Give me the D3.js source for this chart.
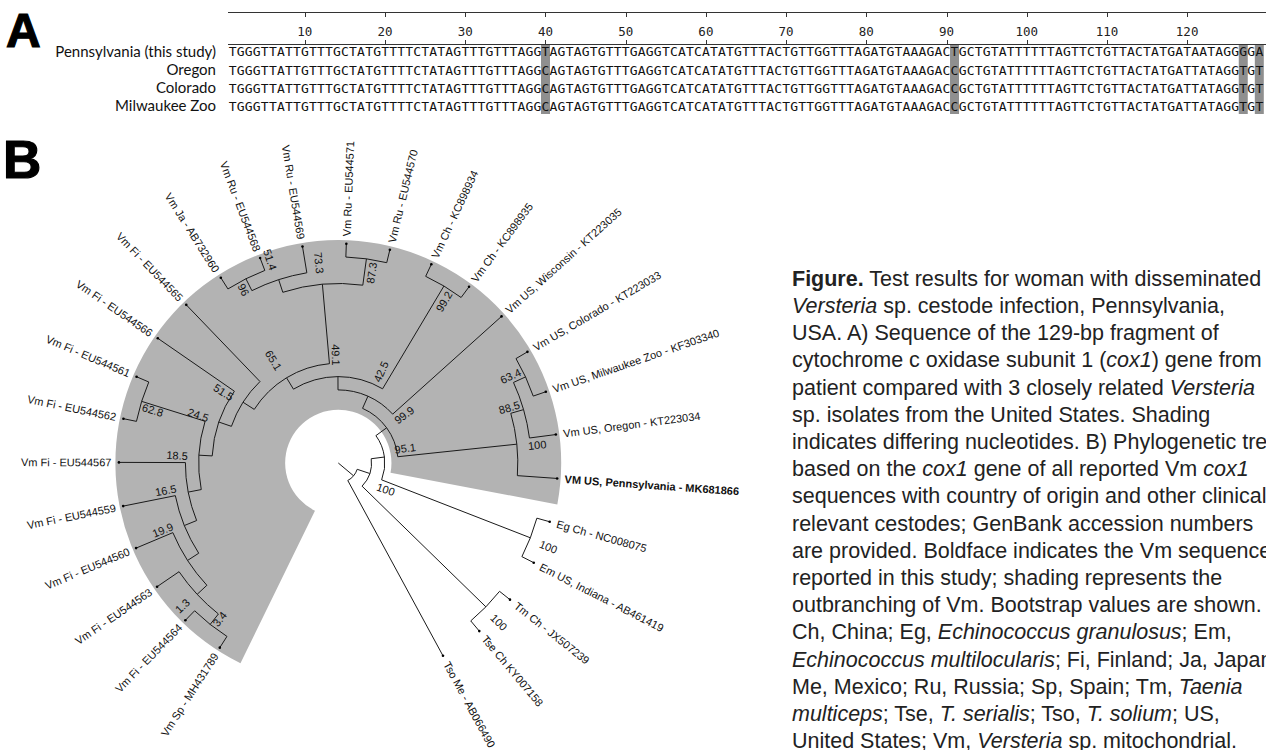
<!DOCTYPE html>
<html>
<head>
<meta charset="utf-8">
<script src="https://cdn.jsdelivr.net/npm/d3@7"></script>
<style>
  body { margin: 0; background: #fff; }
  svg { display: block; }
  text { white-space: pre; }
</style>
</head>
<body>
<svg id="chart" width="1266" height="750"></svg>
<script>
// ---------------- panel A data ----------------
var seqNames = ["Pennsylvania (this study)", "Oregon", "Colorado", "Milwaukee Zoo"];
var seqRows = [
  "TGGGTTATTGTTTGCTATGTTTTCTATAGTTTGTTTAGGTAGTAGTGTTTGAGGTCATCATATGTTTACTGTTGGTTTAGATGTAAAGACTGCTGTATTTTTTAGTTCTGTTACTATGATAATAGGGGA",
  "TGGGTTATTGTTTGCTATGTTTTCTATAGTTTGTTTAGGCAGTAGTGTTTGAGGTCATCATATGTTTACTGTTGGTTTAGATGTAAAGACCGCTGTATTTTTTAGTTCTGTTACTATGATTATAGGTGT",
  "TGGGTTATTGTTTGCTATGTTTTCTATAGTTTGTTTAGGCAGTAGTGTTTGAGGTCATCATATGTTTACTGTTGGTTTAGATGTAAAGACCGCTGTATTTTTTAGTTCTGTTACTATGATTATAGGTGT",
  "TGGGTTATTGTTTGCTATGTTTTCTATAGTTTGTTTAGGCAGTAGTGTTTGAGGTCATCATATGTTTACTGTTGGTTTAGATGTAAAGACCGCTGTATTTTTTAGTTCTGTTACTATGATTATAGGTGT"
];
var diffSites = [40, 91, 127, 129];
var rulerTicks = [10, 20, 30, 40, 50, 60, 70, 80, 90, 100, 110, 120];

// ---------------- panel B data ----------------
var leafKeys = ["TsoMe", "TseCh", "TmCh", "EmUS", "EgCh", "Penn", "Oregon", "Milw", "Colo", "Wisc",
  "Ch935", "Ch934", "Ru570", "Ru571", "Ru569", "Ru568", "Ja", "Fi565", "Fi566", "Fi561",
  "Fi562", "Fi567", "Fi559", "Fi560", "Fi563", "Fi564", "Sp"];
var leafLabels = ["Tso Me - AB066490", "Tse Ch KY007158", "Tm Ch - JX507239", "Em US, Indiana - AB461419",
  "Eg Ch - NC008075", "VM US, Pennsylvania - MK681866", "Vm US, Oregon - KT223034",
  "Vm US, Milwaukee Zoo - KF303340", "Vm US, Colorado - KT223033", "Vm US, Wisconsin - KT223035",
  "Vm Ch - KC898935", "Vm Ch - KC898934", "Vm Ru - EU544570", "Vm Ru - EU544571", "Vm Ru - EU544569",
  "Vm Ru - EU544568", "Vm Ja - AB732960", "Vm Fi - EU544565", "Vm Fi - EU544566", "Vm Fi - EU544561",
  "Vm Fi - EU544562", "Vm Fi - EU544567", "Vm Fi - EU544559", "Vm Fi - EU544560", "Vm Fi - EU544563",
  "Vm Fi - EU544564", "Vm Sp - MH431789"];
var boldLeaf = "Penn";
// topology with bootstrap values as internal node names
var newick = "(TsoMe,((TseCh,TmCh)100,((EmUS,EgCh)100,((Penn,(Oregon,(Milw,Colo)63.4)88.5)100,(Wisc,((Ch935,Ch934)99.2,(((Ru570,Ru571)87.3,(Ru569,(Ru568,Ja)96)51.4)73.3,(Fi565,(Fi566,((Fi561,Fi562)62.8,(Fi567,(Fi559,(Fi560,(Fi563,(Fi564,Sp)3.4)1.3))19.9)16.5)18.5)24.5)51.5)65.1)49.1)42.5)99.9)95.1)100)";
var shadedClade = "Penn|Sp";

// where each bootstrap value sits: beyond the node ("out") or on the branch into it ("in")
var bootLayout = [
  { at: "TseCh|TmCh", mode: "out", shift: -2 },
  { at: "EmUS|EgCh", mode: "out", shift: -2 },
  { at: "TseCh|Sp", mode: "out", shift: -10 },
  { at: "EmUS|Sp", mode: "out", shift: 6 },
  { at: "Penn|Colo", mode: "out", shift: -3 },
  { at: "Oregon|Colo", mode: "in", shift: 6 },
  { at: "Milw|Colo", mode: "in", shift: 7 },
  { at: "Penn|Sp", mode: "out", shift: 0 },
  { at: "Wisc|Sp", mode: "out", shift: -2, gap: 17 },
  { at: "Ch935|Sp", mode: "out", shift: 2 },
  { at: "Ch935|Ch934", mode: "in", shift: -8 },
  { at: "Ru570|Sp", mode: "out", shift: 2 },
  { at: "Ru570|Ja", mode: "out", shift: 1.5 },
  { at: "Ru570|Ru571", mode: "in", shift: -7 },
  { at: "Ru569|Ja", mode: "out", shift: 2 },
  { at: "Ru568|Ja", mode: "in", shift: 7 },
  { at: "Fi565|Sp", mode: "out", shift: 2 },
  { at: "Fi566|Sp", mode: "out", shift: 0 },
  { at: "Fi561|Sp", mode: "out", shift: 1.5 },
  { at: "Fi561|Fi562", mode: "in", shift: 5 },
  { at: "Fi567|Sp", mode: "out", shift: -6 },
  { at: "Fi559|Sp", mode: "out", shift: -4 },
  { at: "Fi563|Sp", mode: "out", shift: -1.5 },
  { at: "Fi564|Sp", mode: "in", shift: 4 }
];

// ---------------- caption ----------------
var captionLines = [
  [["Figure.", "b"], [" Test results for woman with disseminated", ""]],
  [["Versteria", "i"], [" sp. cestode infection, Pennsylvania,", ""]],
  [["USA. A) Sequence of the 129-bp fragment of", ""]],
  [["cytochrome c oxidase subunit 1 (", ""], ["cox1", "i"], [") gene from", ""]],
  [["patient compared with 3 closely related ", ""], ["Versteria", "i"]],
  [["sp. isolates from the United States. Shading", ""]],
  [["indicates differing nucleotides. B) Phylogenetic tree", ""]],
  [["based on the ", ""], ["cox1", "i"], [" gene of all reported Vm ", ""], ["cox1", "i"]],
  [["sequences with country of origin and other clinically", ""]],
  [["relevant cestodes; GenBank accession numbers", ""]],
  [["are provided. Boldface indicates the Vm sequence", ""]],
  [["reported in this study; shading represents the", ""]],
  [["outbranching of Vm. Bootstrap values are shown.", ""]],
  [["Ch, China; Eg, ", ""], ["Echinococcus granulosus", "i"], ["; Em,", ""]],
  [["Echinococcus multilocularis", "i"], ["; Fi, Finland; Ja, Japan;", ""]],
  [["Me, Mexico; Ru, Russia; Sp, Spain; Tm, ", ""], ["Taenia", "i"]],
  [["multiceps", "i"], ["; Tse, ", ""], ["T. serialis", "i"], ["; Tso, ", ""], ["T. solium", "i"], ["; US,", ""]],
  [["United States; Vm, ", ""], ["Versteria", "i"], [" sp. mitochondrial.", ""]]
];

var svg = d3.select("#chart");
var sans = "'Liberation Sans', Arial, sans-serif";

// panel letters
svg.append("text").attr("x", 6).attr("y", 47).text("A")
  .attr("font-family", sans).attr("font-weight", "bold").attr("font-size", 48)
  .attr("stroke", "#000").attr("stroke-width", 1.2);
svg.append("text").attr("x", 3).attr("y", 178).text("B")
  .attr("font-family", sans).attr("font-weight", "bold").attr("font-size", 53)
  .attr("stroke", "#000").attr("stroke-width", 1.2);

// ================= A: alignment =================
var xSeq = d3.scaleLinear().domain([1, 129]).range([232.7, 1259.3]);
var ySeq = d3.scalePoint().domain(seqNames).range([51.5, 106.4]);
var A = svg.append("g");

A.selectAll("rect.diff").data(diffSites).join("rect")
  .attr("class", "diff")
  .attr("x", function (d) { return xSeq(d) - 4.5; })
  .attr("y", 45).attr("width", 9).attr("height", 69)
  .attr("fill", "#8f8f8f");

var ruler = A.append("g").attr("stroke", "#333").attr("shape-rendering", "crispEdges");
ruler.append("line").attr("x1", 228).attr("x2", 1266).attr("y1", 12.5).attr("y2", 12.5);
ruler.append("line").attr("x1", 228).attr("x2", 1266).attr("y1", 44.5).attr("y2", 44.5);
ruler.selectAll("line.tt").data(rulerTicks).join("line").attr("class", "tt")
  .attr("x1", function (d) { return Math.round(xSeq(d)) + 0.5; })
  .attr("x2", function (d) { return Math.round(xSeq(d)) + 0.5; })
  .attr("y1", 12.5).attr("y2", 17);
ruler.selectAll("line.tb").data(rulerTicks).join("line").attr("class", "tb")
  .attr("x1", function (d) { return Math.round(xSeq(d)) + 0.5; })
  .attr("x2", function (d) { return Math.round(xSeq(d)) + 0.5; })
  .attr("y1", 40).attr("y2", 44.5);
A.selectAll("text.tick").data(rulerTicks).join("text").attr("class", "tick")
  .attr("x", function (d) { return xSeq(d); })
  .attr("y", 36)
  .attr("text-anchor", "middle")
  .attr("font-family", "'DejaVu Sans Mono', monospace").attr("font-size", 12.5)
  .attr("fill", "#222")
  .text(function (d) { return d; });

seqNames.forEach(function (name, i) {
  var y = ySeq(name);
  A.append("text").attr("x", 216).attr("y", y + 5)
    .attr("text-anchor", "end")
    .attr("font-family", "Lato, 'Open Sans', sans-serif").attr("font-size", 15)
    .attr("fill", "#111").text(name);
  A.append("g").selectAll("text").data(seqRows[i].split("")).join("text")
    .attr("x", function (d, j) { return xSeq(j + 1); })
    .attr("y", y + 4.7)
    .attr("text-anchor", "middle")
    .attr("font-family", "'DejaVu Sans Mono', monospace").attr("font-size", 13)
    .attr("fill", "#111")
    .text(function (d) { return d; });
});

// ================= B: circular tree =================
function parseNewick(s) {
  var stack = [], node = {}, root = node;
  var tokens = s.split(/\s*(;|\(|\)|,)\s*/);
  for (var i = 0; i < tokens.length; i++) {
    var t = tokens[i], c;
    if (t === "(") { c = {}; node.children = [c]; stack.push(node); node = c; }
    else if (t === ",") { c = {}; stack[stack.length - 1].children.push(c); node = c; }
    else if (t === ")") { node = stack.pop(); }
    else if (t && t !== ";") { node.name = t; }
  }
  return root;
}

var cx = 338.3, cy = 463, leafR = 219.4, rootR = 19.9;
var toRad = Math.PI / 180;
var root = d3.hierarchy(parseNewick(newick));
d3.cluster().size([leafKeys.length, 1]).separation(function () { return 1; })(root);

var ang = d3.scaleLinear().domain([0.5, leafKeys.length - 0.5]).range([-61.5, 237.3]);
var rad = d3.scaleLinear().domain([0, 1]).range([rootR, leafR]);

function pt(th, r) { return [cx + r * Math.cos(th * toRad), cy - r * Math.sin(th * toRad)]; }

var byKey = {};
root.each(function (d) {
  var lv = d.leaves();
  d.key = lv[0].data.name + "|" + lv[lv.length - 1].data.name;
  byKey[d.key] = d;
});

var B = svg.append("g");

// shaded Vm clade
var vm = byKey[shadedClade];
var vmLeaves = vm.leaves();
var toA = function (th) { return (90 - th) * toRad; };
B.append("path")
  .attr("transform", "translate(" + cx + "," + cy + ")")
  .attr("d", d3.arc()({
    innerRadius: (rad(vm.y) + rad(vm.parent.y)) / 2,
    outerRadius: leafR + 3.5,
    startAngle: toA(ang(vmLeaves[vmLeaves.length - 1].x + 0.58)),
    endAngle: toA(ang(vmLeaves[0].x - 0.58))
  }))
  .attr("fill", "#b3b3b3");

// branches
var p = d3.path();
root.each(function (d) {
  var th = ang(d.x), r = rad(d.y);
  var r0 = d.parent ? rad(d.parent.y) : 0;
  var a = pt(th, r0), b = pt(th, r);
  p.moveTo(a[0], a[1]); p.lineTo(b[0], b[1]);
  if (d.children) {
    var t1 = ang(d.children[0].x), t2 = ang(d.children[d.children.length - 1].x);
    var s = pt(t1, r);
    p.moveTo(s[0], s[1]);
    p.arc(cx, cy, r, -t1 * toRad, -t2 * toRad, true);
  }
});
B.append("path").attr("d", p.toString())
  .attr("fill", "none").attr("stroke", "#1a1a1a").attr("stroke-width", 1);

// tips and leaf labels
var leaves = root.leaves();
B.selectAll("circle.tip").data(leaves).join("circle").attr("class", "tip")
  .attr("cx", function (d) { return pt(ang(d.x), leafR)[0]; })
  .attr("cy", function (d) { return pt(ang(d.x), leafR)[1]; })
  .attr("r", 1.3).attr("fill", "#000");

B.selectAll("text.leaf").data(leaves).join("text").attr("class", "leaf")
  .each(function (d) {
    var th = ang(d.x), right = Math.cos(th * toRad) > 0;
    var lr = leafR + 7.5;
    d3.select(this)
      .attr("transform", "translate(" + cx + "," + cy + ") rotate(" + (right ? -th : 180 - th) + ")")
      .attr("x", right ? lr : -lr)
      .attr("text-anchor", right ? "start" : "end");
  })
  .attr("dominant-baseline", "central")
  .attr("font-family", sans).attr("font-size", 11)
  .attr("font-weight", function (d) { return d.data.name === boldLeaf ? "bold" : null; })
  .attr("fill", "#111")
  .text(function (d) { return leafLabels[leafKeys.indexOf(d.data.name)]; });

// bootstrap values
B.selectAll("text.boot").data(bootLayout).join("text").attr("class", "boot")
  .each(function (b) {
    var d = byKey[b.at];
    var th = ang(d.x), r = rad(d.y);
    var right = Math.cos(th * toRad) > 0;
    var rr = b.mode === "out" ? r + (b.gap || 11) : r - 2.5;
    d3.select(this)
      .attr("transform", "translate(" + cx + "," + cy + ") rotate(" + (right ? -th : 180 - th) + ")")
      .attr("x", right ? rr : -rr)
      .attr("y", right ? -b.shift : b.shift)
      .attr("text-anchor", (b.mode === "out") === right ? "start" : "end")
      .text(d.data.name);
  })
  .attr("dominant-baseline", "central")
  .attr("font-family", sans).attr("font-size", 11)
  .attr("fill", "#111");

// ================= caption =================
var capY = d3.scaleLinear().domain([0, 1]).range([285.8, 313]);
var cap = svg.append("g")
  .attr("font-family", sans).attr("font-size", 21.5).attr("fill", "#222");
captionLines.forEach(function (line, i) {
  var t = cap.append("text").attr("x", 792).attr("y", capY(i));
  line.forEach(function (seg) {
    t.append("tspan").text(seg[0])
      .attr("font-weight", seg[1] === "b" ? "bold" : null)
      .attr("font-style", seg[1] === "i" ? "italic" : null);
  });
});
</script>
</body>
</html>
